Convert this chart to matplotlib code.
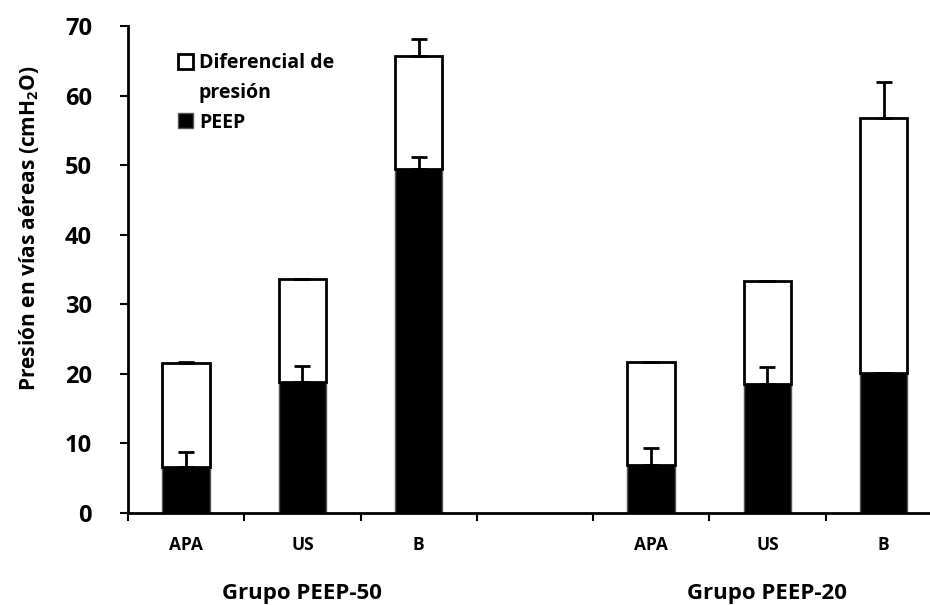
import numpy as np
import matplotlib.pyplot as plt
from matplotlib.patches import Patch

plt.rcParams['font.family'] = ['Open Sans', 'DejaVu Sans']
plt.rcParams['font.weight'] = 'bold'
plt.rcParams['mathtext.fontset'] = 'custom'
plt.rcParams['mathtext.bf'] = 'Open Sans:bold'
plt.rcParams['mathtext.rm'] = 'Open Sans:bold'

# data (4th slot is the empty gap between groups)
categories = ["APA", "US", "B", "", "APA", "US", "B"]
peep = [6.6, 18.8, 49.4, 0, 6.9, 18.5, 20.1]
diferencial = [15.0, 14.8, 16.3, 0, 14.8, 14.8, 36.7]
peep_err = [2.2, 2.3, 1.8, 0, 2.4, 2.5, 0.05]
dif_err = [0.05, 0.05, 2.4, 0, 0.05, 0.05, 5.2]
groups = ["Grupo PEEP-50", "Grupo PEEP-20"]
group_pos = [1, 5]

x = np.arange(len(categories))
has_bar = np.array([c != "" for c in categories])
peep = np.array(peep)
diferencial = np.array(diferencial)
total = peep + diferencial

fig = plt.figure(figsize=(9.3, 6.05), dpi=100)
ax = fig.add_axes([128 / 930, 92 / 605, 801 / 930, 487 / 605])

w = 0.41
b_peep = ax.bar(x[has_bar], peep[has_bar], w, color="black", edgecolor="#555555",
                linewidth=1, zorder=2)
b_dif = ax.bar(x[has_bar], diferencial[has_bar], w, bottom=peep[has_bar], color="white",
               edgecolor="black", linewidth=2, zorder=2)

# upward-only error bars
zeros = np.zeros(has_bar.sum())
ax.errorbar(x[has_bar], peep[has_bar], yerr=[zeros, np.array(peep_err)[has_bar]],
            fmt="none", ecolor="black", elinewidth=2, capsize=6, capthick=2, zorder=3)
ax.errorbar(x[has_bar], total[has_bar], yerr=[zeros, np.array(dif_err)[has_bar]],
            fmt="none", ecolor="black", elinewidth=2, capsize=6, capthick=2, zorder=3)

ax.set_xlim(-0.5, 6.39)
ax.set_ylim(0, 70)
ax.set_yticks(range(0, 71, 10))
ax.tick_params(axis="y", labelsize=17, width=1.5, length=6, direction="out", pad=20)
for lab in ax.get_yticklabels():
    lab.set_fontweight("bold")

ax.set_xticks(np.arange(-0.5, 6.0, 1.0))
ax.set_xticklabels([])
ax.tick_params(axis="x", width=1.5, length=6, direction="out")
for xi, c in zip(x, categories):
    ax.text(xi, -4.6, c, ha="center", va="center", fontsize=12.5, fontweight="bold")
for gp, g in zip(group_pos, groups):
    ax.text(gp, -11.5, g, ha="center", va="center", fontsize=16, fontweight="bold")

ax.spines["top"].set_visible(False)
ax.spines["right"].set_visible(False)
ax.spines["left"].set_linewidth(2)
ax.spines["bottom"].set_linewidth(2)

ax.set_ylabel("Presión en vías aéreas (cmH$_\\mathbf{2}$O)", fontsize=15,
              fontweight="bold")
ax.yaxis.set_label_coords(-0.108, 0.585)

# legend: second line of the first label gets an invisible handle so the
# square sits next to the first line, as in the original
blank = Patch(facecolor="none", edgecolor="none")
leg = ax.legend([b_dif, blank, b_peep], ["Diferencial de", "presión", "PEEP"],
                loc="upper left", bbox_to_anchor=(0.04, 0.98), frameon=False,
                handlelength=0.8, handleheight=0.8, handletextpad=0.3,
                labelspacing=0.5, prop={"weight": "bold", "size": 14})

fig.savefig("out.png", dpi=100)
